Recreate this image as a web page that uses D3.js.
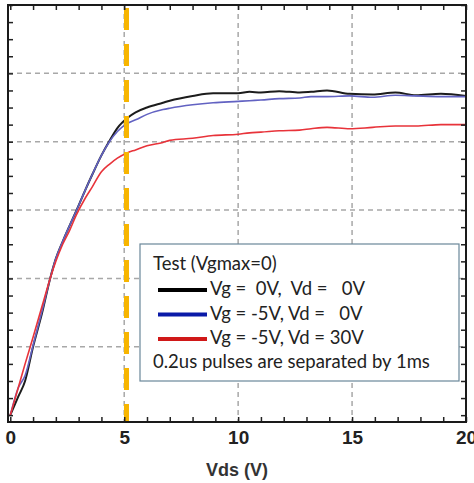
<!DOCTYPE html>
<html lang="en">
<head>
  <meta charset="UTF-8">
  <title>Vds sweep</title>
  <script src="https://d3js.org/d3.v7.min.js"></script>
  <style>
    body {
      margin: 0;
      background: #fff;
    }
    .tick-label text {
      font-family: "Liberation Sans", Arial, sans-serif;
      font-weight: bold;
      font-size: 19px;
      fill: #222;
    }
    .legend text {
      font-family: Lato, "Open Sans", sans-serif;
      font-size: 18.5px;
      fill: #222;
    }
  </style>
</head>
<body>
<svg width="474" height="483"></svg>

<script>
// data (x in V, y in grid units)
const vds = [0, 0.35, 0.65, 1.0, 1.4, 1.75, 2.0, 2.3, 2.6, 2.9, 3.3, 3.6, 4.0, 4.35, 4.7,
  5.15, 5.5, 6.0, 6.7, 7.0, 8.0, 8.9, 10.0, 10.5, 11.0, 11.8, 12.7, 13.2, 13.9, 14.9,
  15.9, 16.9, 17.8, 18.9, 20.0];
const idBlack = [0, 0.27, 0.5, 1.0, 1.5, 2.0, 2.29, 2.54, 2.77, 2.99, 3.3, 3.52, 3.8, 4.01, 4.2,
  4.35, 4.43, 4.5, 4.57, 4.6, 4.67, 4.71, 4.71, 4.73, 4.72, 4.74, 4.72, 4.73, 4.75, 4.70,
  4.69, 4.72, 4.68, 4.70, 4.67];
const idBlue = [0, 0.4, 0.58, 1.02, 1.53, 2.0, 2.29, 2.54, 2.77, 2.99, 3.3, 3.52, 3.8, 4.0, 4.15,
  4.27, 4.32, 4.4, 4.47, 4.49, 4.54, 4.57, 4.59, 4.6, 4.61, 4.63, 4.64, 4.66, 4.66, 4.67,
  4.65, 4.68, 4.67, 4.66, 4.66];
const idRed = [0, 0.4, 0.75, 1.14, 1.6, 2.0, 2.25, 2.5, 2.7, 2.93, 3.18, 3.34, 3.56, 3.67, 3.76,
  3.84, 3.88, 3.94, 3.99, 4.02, 4.05, 4.09, 4.11, 4.13, 4.14, 4.16, 4.17, 4.19, 4.21, 4.19,
  4.21, 4.23, 4.23, 4.25, 4.25];

const xLabels = [0, 5, 10, 15, 20];
const gridX = [5, 10, 15];
const gridY = [1, 2, 3, 4, 5];
const markerVds = 5.1;

const legendTitle = "Test (Vgmax=0)";
const legendItems = ["Vg =  0V,  Vd =   0V", "Vg = -5V, Vd =   0V", "Vg = -5V, Vd = 30V"];
const legendNote = "0.2us pulses are separated by 1ms";

const curveColors = ["#1c1c1c", "#6262c2", "#e8333a"];
const legendColors = ["#000", "#0a1aa8", "#d01818"];

const svg = d3.select("svg");
const box = { left: 8, right: 466, top: 5, bottom: 422 };

const x = d3.scaleLinear().domain([-0.1, 20]).range([box.left, box.right]);
const y = d3.scaleLinear().domain([-0.1, 6]).range([box.bottom, box.top]);

// grid
svg.append("g").selectAll("line")
  .data(gridX).enter().append("line")
  .attr("x1", d => x(d)).attr("x2", d => x(d))
  .attr("y1", box.top).attr("y2", box.bottom)
  .attr("stroke", "#a8a8a8").attr("stroke-width", 1.5)
  .attr("stroke-dasharray", "5,4");

svg.append("g").selectAll("line")
  .data(gridY).enter().append("line")
  .attr("x1", box.left).attr("x2", box.right)
  .attr("y1", d => y(d)).attr("y2", d => y(d))
  .attr("stroke", "#a8a8a8").attr("stroke-width", 1.5)
  .attr("stroke-dasharray", "5,4");

// curves
const line = d3.line()
  .x((d, i) => x(vds[i]))
  .y(d => y(d))
  .curve(d3.curveMonotoneX);

[idBlack, idBlue, idRed].forEach((s, k) => {
  svg.append("path")
    .attr("d", line(s))
    .attr("fill", "none")
    .attr("stroke", curveColors[k])
    .attr("stroke-width", k === 0 ? 2 : 1.6);
});

// yellow marker
svg.append("line")
  .attr("x1", x(markerVds)).attr("x2", x(markerVds))
  .attr("y1", box.top + 3).attr("y2", box.bottom)
  .attr("stroke", "#f7b500").attr("stroke-width", 5)
  .attr("stroke-dasharray", "22,14");

// inward ticks on all four sides
const minorX = d3.range(0, 21, 1);
const minorY = d3.range(0, 6.01, 0.25);
const tickStyle = g => {
  g.select(".domain").remove();
  g.selectAll(".tick line").attr("stroke", "#222").attr("stroke-width", 1.5);
};
svg.append("g").attr("transform", `translate(0,${box.bottom})`)
  .call(d3.axisBottom(x).tickValues(minorX).tickSize(-5).tickFormat(""))
  .call(tickStyle);
svg.append("g").attr("transform", `translate(0,${box.top})`)
  .call(d3.axisTop(x).tickValues(minorX).tickSize(-5).tickFormat(""))
  .call(tickStyle);
svg.append("g").attr("transform", `translate(${box.left},0)`)
  .call(d3.axisLeft(y).tickValues(minorY).tickSize(-5).tickFormat(""))
  .call(tickStyle);
svg.append("g").attr("transform", `translate(${box.right},0)`)
  .call(d3.axisRight(y).tickValues(minorY).tickSize(-5).tickFormat(""))
  .call(tickStyle);

// frame
svg.append("rect")
  .attr("x", box.left).attr("y", box.top)
  .attr("width", box.right - box.left).attr("height", box.bottom - box.top)
  .attr("fill", "none").attr("stroke", "#1a1a1a").attr("stroke-width", 2);

// x labels (the last one runs off the right edge, as in the original)
svg.append("g")
  .attr("class", "tick-label")
  .attr("transform", `translate(0,${box.bottom + 4})`)
  .call(d3.axisBottom(x).tickValues(xLabels).tickSize(0).tickPadding(0).tickFormat(d3.format("d")))
  .call(g => g.select(".domain").remove())
  .selectAll("text").attr("dy", "0.95em");

svg.append("text")
  .attr("x", 237).attr("y", 476)
  .attr("text-anchor", "middle")
  .style("font-family", "'Liberation Sans', Arial, sans-serif")
  .style("font-weight", "bold")
  .style("font-size", "18px")
  .style("fill", "#333")
  .text("Vds (V)");

// legend
const lg = svg.append("g").attr("class", "legend");
lg.append("rect")
  .attr("x", 140).attr("y", 244).attr("width", 319).attr("height", 137)
  .attr("fill", "#fff").attr("stroke", "#6a8799").attr("stroke-width", 1.2);
lg.append("text").attr("x", 153).attr("y", 270).text(legendTitle);
legendItems.forEach((t, i) => {
  const yy = 295 + i * 24.5;
  lg.append("line")
    .attr("x1", 158).attr("x2", 207)
    .attr("y1", yy - 5).attr("y2", yy - 5)
    .attr("stroke", legendColors[i]).attr("stroke-width", 4);
  lg.append("text").attr("x", 210).attr("y", yy)
    .style("white-space", "pre").attr("xml:space", "preserve").text(t);
});
lg.append("text").attr("x", 153).attr("y", 368).text(legendNote);
</script>
</body>
</html>
